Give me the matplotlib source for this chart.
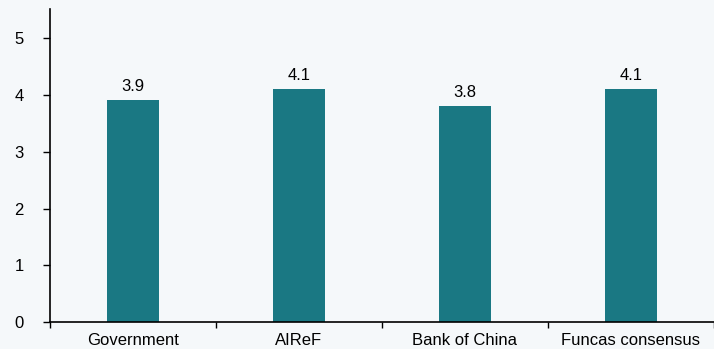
import numpy as np
import matplotlib.pyplot as plt

plt.rcParams['font.family'] = ['Liberation Sans', 'DejaVu Sans']

categories = ['Government', 'AIReF', 'Bank of China', 'Funcas consensus']
values = [3.9, 4.1, 3.8, 4.1]

bg = '#f5f8fa'
bar_color = '#1a7883'

fig = plt.figure(figsize=(7.14, 3.49), dpi=100, facecolor=bg)
ax = fig.add_axes([0.07, 0.0765, 0.93, 0.8965], facecolor=bg)

x = np.arange(len(categories))
ax.bar(x, values, width=0.313, color=bar_color, zorder=2)
for xi, v in zip(x, values):
    ax.text(xi, v + 0.11, '%.1f' % v, ha='center', va='bottom', fontsize=12)

ax.set_xlim(-0.5, 3.445)
ax.set_ylim(0, 5.5)
ax.set_yticks(range(6))
ax.set_xticks(x)
ax.set_xticklabels(categories, fontsize=12)
ax.set_xticks(np.arange(-0.5, 4, 1), minor=True)
ax.tick_params(axis='x', which='major', length=0, pad=8)
ax.tick_params(axis='x', which='minor', length=4, width=1, direction='out')
ax.tick_params(axis='y', length=5, width=1, labelsize=12, pad=14)

for s in ['top', 'right']:
    ax.spines[s].set_visible(False)
ax.spines['left'].set_linewidth(1.2)
ax.spines['bottom'].set_linewidth(1.2)

fig.savefig('out.png', dpi=100, facecolor=bg)
